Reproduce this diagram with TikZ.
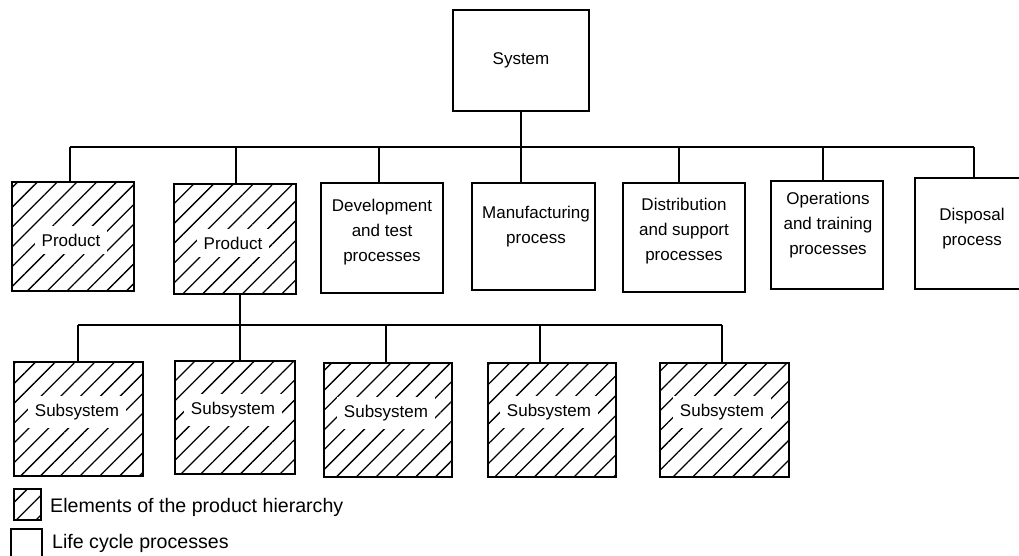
\documentclass[tikz,border=0pt]{standalone}
\usepackage{fontspec}
\setmainfont{Liberation Sans}
\usetikzlibrary{patterns.meta}
\tikzset{
  box/.style={draw, line width=1.4pt, inner sep=0pt},
  hbox/.style={box, pattern={Lines[angle=45,distance=14pt,line width=1.3pt]}},
  txt/.style={font=\fontsize{17}{25}\selectfont, align=center, inner sep=0pt},
  htxt/.style={txt, fill=white, inner xsep=7pt, inner ysep=8pt},
  ltxt/.style={font=\fontsize{19.6}{25}\selectfont, anchor=west, inner sep=0pt},
  conn/.style={line width=1.2pt},
}
\begin{document}
\begin{tikzpicture}[x=1pt,y=-1pt]
\useasboundingbox (0,0) rectangle (1019,556);
% System
\node[box, txt, minimum width=136pt, minimum height=101pt] (sys) at (521,60.5) {System};
% first level
\node[hbox, minimum width=122pt, minimum height=109pt] (p1) at (73,236.5) {};
\node[hbox, minimum width=122pt, minimum height=110pt] (p2) at (235,239) {};
\node[box, minimum width=122pt, minimum height=110pt] (dev) at (382,238) {};
\node[box, minimum width=123pt, minimum height=107pt] (man) at (533.5,236.5) {};
\node[box, minimum width=122pt, minimum height=109pt] (dis) at (684,237.5) {};
\node[box, minimum width=112pt, minimum height=108pt] (ops) at (827,235) {};
\node[box, minimum width=115pt, minimum height=111pt] (dsp) at (972.5,233.5) {};
\node[htxt] (p1t) at (71,240) {Product};
\node[htxt] (p2t) at (233,243) {Product};
\node[txt] (devt) at (382,232) {Development\\and test\\processes};
\node[txt] (mant) at (536,226.5) {Manufacturing\\process};
\node[txt] (dist) at (684,231) {Distribution\\and support\\processes};
\node[txt] (opst) at (828,225) {Operations\\and training\\processes};
\node[txt] (dspt) at (972,228.5) {Disposal\\process};
% top bus
\coordinate (t0) at (521,147);
\coordinate (t1) at (70,147);
\coordinate (t2) at (236,147);
\coordinate (t3) at (379,147);
\coordinate (t5) at (679,147);
\coordinate (t6) at (823,147);
\coordinate (t7) at (974,147);
\draw[conn] (sys.south) -- (t0);
\draw[conn] (t1) -- (t7);
\draw[conn] (t1) -- (t1 |- p1.north);
\draw[conn] (t2) -- (t2 |- p2.north);
\draw[conn] (t3) -- (t3 |- dev.north);
\draw[conn] (t0) -- (t0 |- man.north);
\draw[conn] (t5) -- (t5 |- dis.north);
\draw[conn] (t6) -- (t6 |- ops.north);
\draw[conn] (t7) -- (t7 |- dsp.north);
% subsystems
\node[hbox, minimum width=129pt, minimum height=114pt] (s1) at (78.5,419) {};
\node[hbox, minimum width=120pt, minimum height=113pt] (s2) at (235,417.5) {};
\node[hbox, minimum width=128pt, minimum height=114pt] (s3) at (388,420) {};
\node[hbox, minimum width=128pt, minimum height=114pt] (s4) at (552,420) {};
\node[hbox, minimum width=129pt, minimum height=114pt] (s5) at (724.5,420) {};
\node[htxt] (s1t) at (77,412) {Subsystem};
\node[htxt] (s2t) at (233,410) {Subsystem};
\node[htxt] (s3t) at (386,413) {Subsystem};
\node[htxt] (s4t) at (549,412) {Subsystem};
\node[htxt] (s5t) at (722,412) {Subsystem};
% second bus
\coordinate (u0) at (240,325);
\coordinate (u1) at (78,325);
\coordinate (u3) at (386,325);
\coordinate (u4) at (540,325);
\coordinate (u5) at (722,325);
\draw[conn] (u0 |- p2.south) -- (u0);
\draw[conn] (u1) -- (u5);
\draw[conn] (u1) -- (u1 |- s1.north);
\draw[conn] (u0) -- (u0 |- s2.north);
\draw[conn] (u3) -- (u3 |- s3.north);
\draw[conn] (u4) -- (u4 |- s4.north);
\draw[conn] (u5) -- (u5 |- s5.north);
% legend
\node[hbox, minimum width=27pt, minimum height=31pt] (lh) at (27.5,504.5) {};
\node[box, minimum width=31pt, minimum height=36pt] (le) at (26.5,547) {};
\node[ltxt] (lht) at (50,507) {Elements of the product hierarchy};
\node[ltxt] (let) at (52,543) {Life cycle processes};
\end{tikzpicture}
\end{document}
